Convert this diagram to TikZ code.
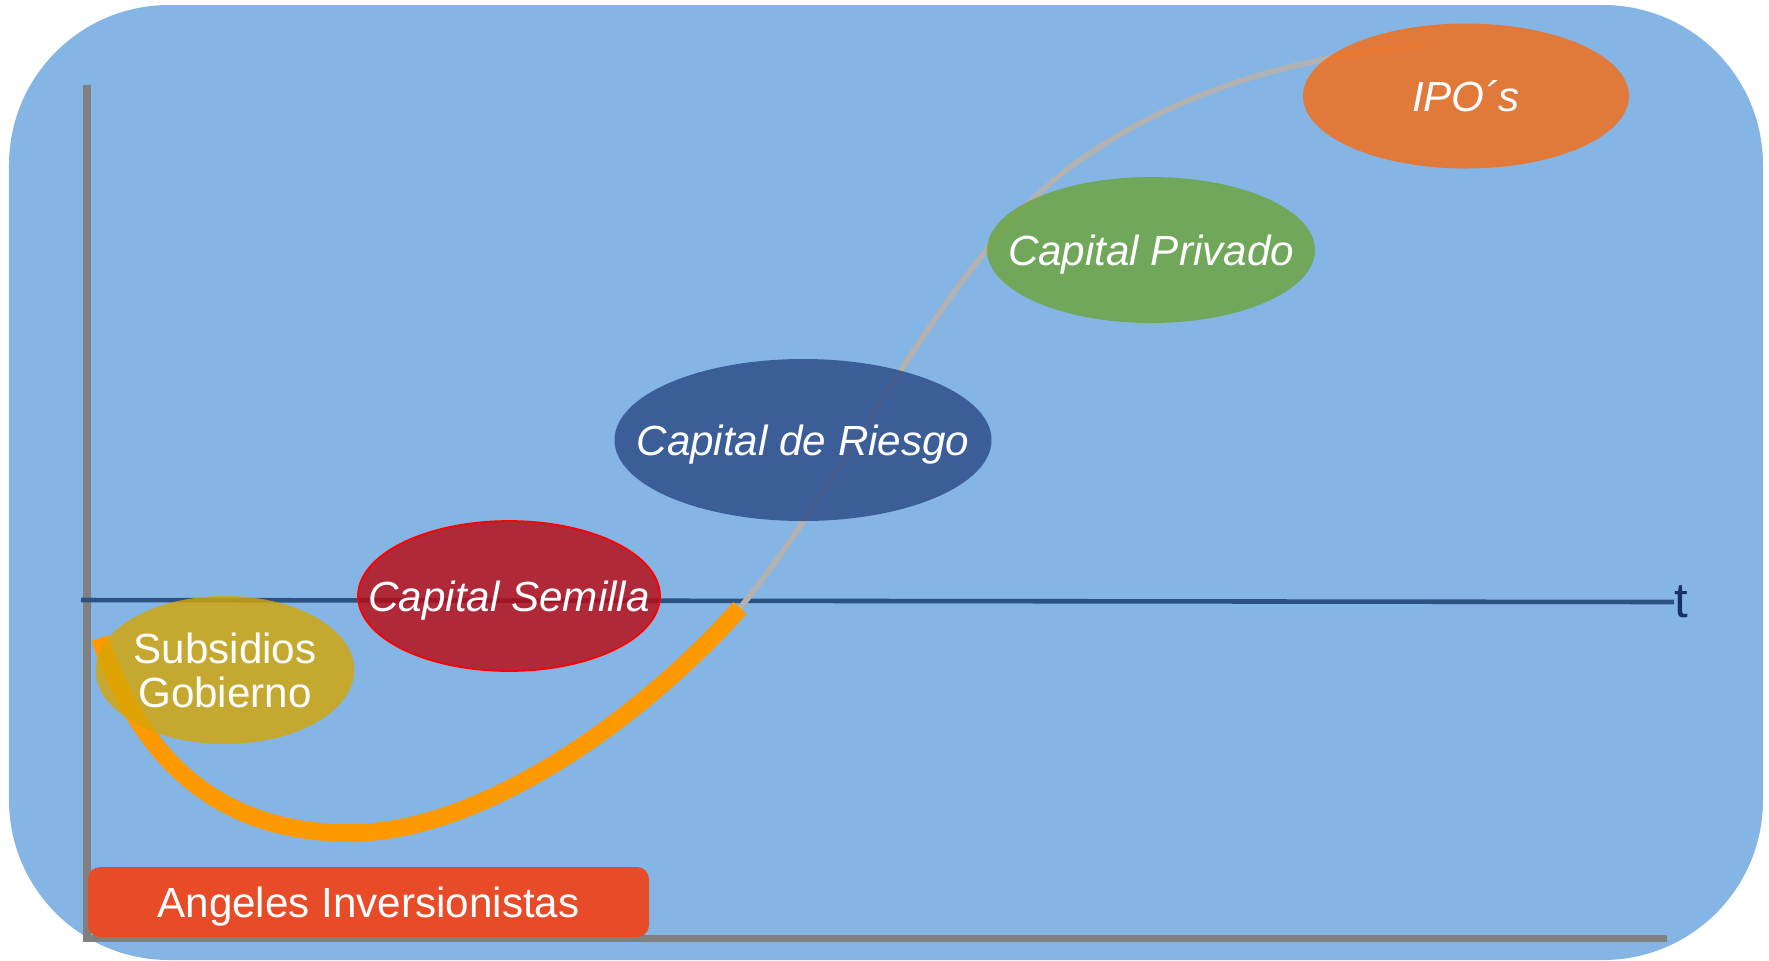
\documentclass[tikz,border=0pt]{standalone}
\usepackage{fontspec}
\setmainfont{Liberation Sans}
\usetikzlibrary{shapes.geometric}
\definecolor{bgblue}{RGB}{133,181,228}
\definecolor{axisgray}{RGB}{128,128,128}
\definecolor{tblue}{RGB}{44,82,130}
\definecolor{tnavy}{RGB}{20,50,100}
\definecolor{seedorange}{RGB}{255,153,0}
\definecolor{curvegray}{RGB}{178,178,178}
\definecolor{goldfill}{RGB}{214,165,3}
\definecolor{semillafill}{RGB}{187,7,15}
\definecolor{riesgofill}{RGB}{41,72,134}
\definecolor{privadofill}{RGB}{107,164,57}
\definecolor{ipofill}{RGB}{247,107,16}
\definecolor{angelred}{RGB}{232,75,40}
% text that does not widen the ellipse
\newcommand\stagetext[1]{\makebox[0pt]{#1}}
\begin{document}
\begin{tikzpicture}[
    stage/.style={ellipse, inner sep=0pt, fill opacity=0.8, text opacity=1,
      text=white, font=\fontsize{12}{13}\selectfont\itshape},
    axis/.style={draw=axisgray, line width=2pt},
    tline/.style={draw=tblue, line width=1.3pt},
    seed/.style={draw=seedorange, line width=5pt},
    growth/.style={draw=curvegray, line width=1.6pt}]
  \useasboundingbox (0,0) rectangle (17.69,-9.60);
  \fill[bgblue, rounded corners=1.6cm] (0.09,-0.05) rectangle (17.63,-9.60);
  % axes
  \coordinate (yaxis) at (0.87,-0.85);
  \coordinate (origin) at (0.87,-9.38);
  \coordinate (xaxis) at (16.67,-9.38);
  \draw[axis] (yaxis) -- (origin) -- (xaxis);
  \coordinate (tstart) at (0.81,-6.00);
  \node[anchor=west, inner sep=0pt, text=tnavy, font=\fontsize{14}{15}\selectfont] (t) at (16.74,-6.02) {t};
  \draw[tline] (tstart) -- (t.west);
  % curve
  \coordinate (start) at (1.00,-6.38);
  \coordinate (low) at (3.50,-8.33);
  \coordinate (turn) at (7.40,-6.08);
  \coordinate (bend) at (10.80,-1.60);
  \coordinate (top) at (14.25,-0.46);
  \draw[growth] (start) .. controls (1.50,-7.90) and (2.50,-8.33) .. (low)
    .. controls (4.80,-8.33) and (6.40,-7.20) .. (turn)
    .. controls (8.60,-4.60) and (9.50,-2.50) .. (bend)
    .. controls (11.80,-0.90) and (13.00,-0.55) .. (top);
  \draw[seed] (start) .. controls (1.50,-7.90) and (2.50,-8.33) .. (low)
    .. controls (4.80,-8.33) and (6.40,-7.20) .. (turn);
  % stages
  \node[stage, fill=goldfill, minimum width=2.56cm, minimum height=1.48cm,
    align=center, font=\fontsize{12}{12.5}\selectfont] (subsidios) at (2.25,-6.70) {Subsidios\\Gobierno};
  \node[stage, text depth=0pt, fill=semillafill, draw=red, draw opacity=1, line width=0.5pt,
    minimum width=3.02cm, minimum height=1.50cm] (semilla) at (5.09,-5.96) {\stagetext{Capital Semilla}};
  \node[stage, text depth=0pt, fill=riesgofill, minimum width=3.77cm, minimum height=1.62cm] (riesgo) at (8.03,-4.40) {\stagetext{Capital de Riesgo}};
  \node[stage, text depth=0pt, fill=privadofill, minimum width=3.28cm, minimum height=1.46cm] (privado) at (11.51,-2.50) {\stagetext{Capital Privado}};
  \node[stage, fill=ipofill, minimum width=3.26cm, minimum height=1.45cm] (ipo) at (14.66,-0.96) {\stagetext{IPO´s}};
  \node[fill=angelred, rounded corners=0.12cm, minimum width=5.61cm, minimum height=0.70cm,
    text depth=0pt, text=white, font=\fontsize{12}{13}\selectfont] (angeles) at (3.685,-9.02) {Angeles Inversionistas};
\end{tikzpicture}
\end{document}
